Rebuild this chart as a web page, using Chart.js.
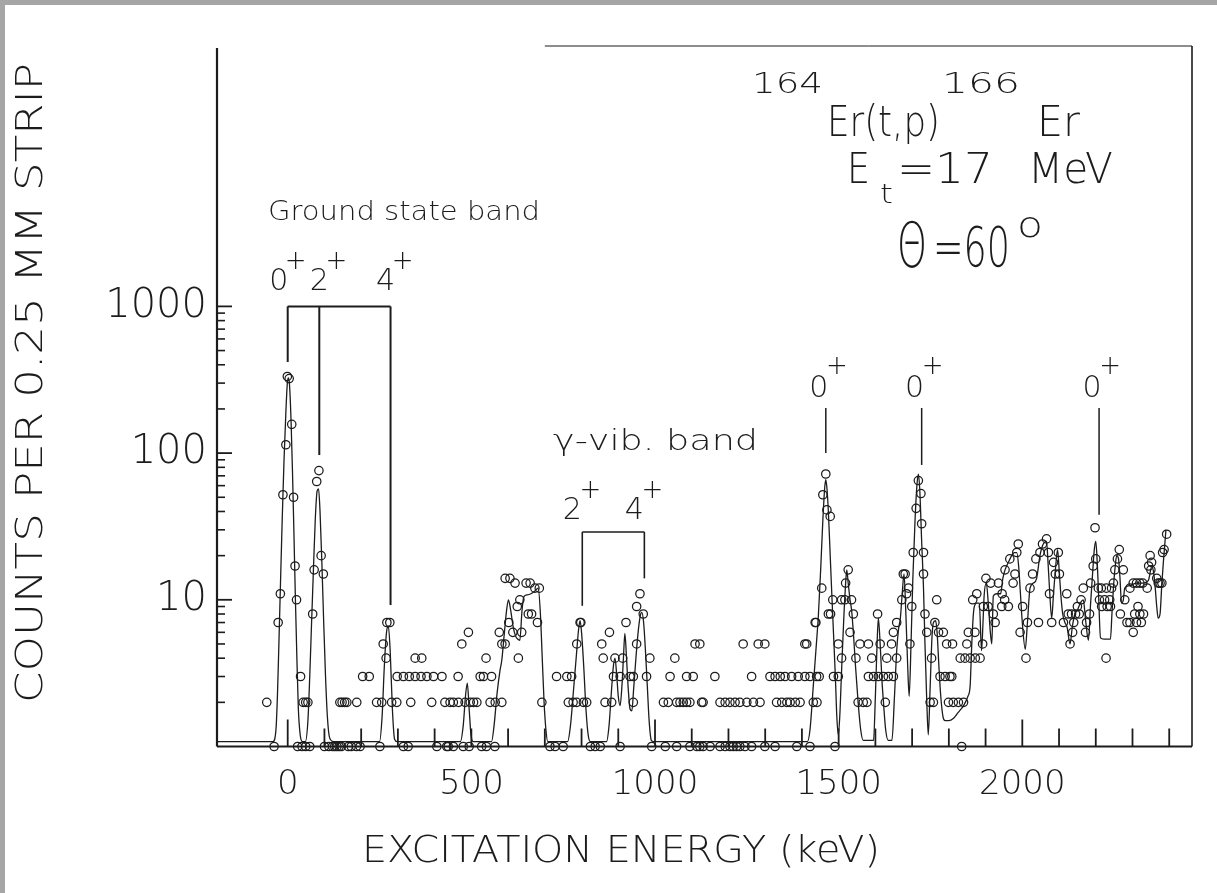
<!DOCTYPE html>
<html><head><meta charset="utf-8">
<script src="https://cdn.jsdelivr.net/npm/chart.js@4/dist/chart.umd.min.js"></script>
<style>html,body{margin:0;padding:0;background:#fff}canvas{display:block}</style>
</head><body>
<canvas id="c" width="1217" height="893"></canvas>
<script>
// ---------------- DATA (excitation energy in keV, counts per strip) ----------------
const xTickValues = [0,100,200,300,400,500,600,700,800,900,1000,1100,1200,1300,1400,1500,1600,1700,1800,1900,2000,2100,2200,2300,2400];
const yTickValues = [10,100,1000];

const groundRegion = [[-57,2],[-37,1],[-26,7],[-20,11],[-13,52],[-5,114],[-1,333],[4,322],[11,157],[16,50],[20,17],[24,10],[27,1],[35,3],[39,1],[42,2],[49,2],[49,1],[55,2],[60,1],[68,8],[72,16],[79,64],[85,76],[91,20],[97,15],[100,1],[112,1],[122,1],[128,1],[134,1],[140,1],[142,2],[146,1],[148,2],[155,2],[161,2],[165,1],[173,1],[187,1],[188,2],[197,1],[204,3],[222,3],[242,2],[251,1],[256,2],[260,5],[268,4],[270,7],[278,7],[283,2],[297,2],[298,3],[315,3],[315,1],[328,1],[331,3],[335,2],[347,3],[347,4],[363,3],[365,4],[379,3],[392,2],[397,3],[406,1],[420,3],[428,2],[433,1]];
const gammaRegion = [[437,1],[442,2],[451,1],[451,2],[464,3],[465,2],[474,5],[478,1],[483,2],[492,6],[494,1],[497,2],[506,2],[515,2],[524,3],[528,1],[533,3],[540,4],[541,1],[551,2],[555,3],[564,1],[565,2],[576,6],[583,2],[583,5],[592,5],[592,14],[602,7],[605,14],[613,6],[619,13],[625,9],[628,4],[632,10],[637,6],[649,13],[655,8],[660,13],[664,8],[673,12],[680,7],[685,12],[692,2],[714,1],[728,1],[732,3],[750,1],[760,3],[764,2],[773,3],[777,2],[787,2],[787,5],[796,7],[798,7],[805,2],[814,2],[824,1],[837,1],[851,1],[855,5],[859,4],[864,2],[876,6],[882,2],[887,3],[891,4],[905,1],[905,3],[912,4],[921,7],[932,3],[941,2],[941,3],[950,5],[950,9],[959,11],[968,8],[977,3],[986,4],[991,1],[1023,2],[1028,1],[1036,2],[1041,3],[1054,4],[1059,1],[1059,2],[1068,2],[1077,2],[1086,2],[1086,3],[1095,1],[1095,2],[1104,3],[1109,5],[1114,1]];
const midRegion = [[1122,1],[1122,5],[1127,2],[1131,1],[1131,2],[1150,1],[1163,3],[1177,1],[1177,2],[1191,1],[1191,2],[1204,1],[1204,2],[1213,1],[1218,2],[1222,1],[1231,1],[1231,2],[1240,5],[1245,1],[1250,2],[1263,1],[1263,3],[1268,2],[1281,5],[1286,2],[1299,1],[1299,5],[1313,3],[1327,1],[1327,3],[1331,2],[1341,3],[1345,2],[1354,3],[1359,2],[1368,2],[1372,3],[1382,2],[1386,1],[1390,3],[1395,2],[1408,3],[1408,5],[1413,5],[1422,1]];
const zeroPlusRegion = [[1422,3],[1431,2],[1436,7],[1438,7],[1440,3],[1441,2],[1447,3],[1454,12],[1457,52],[1465,72],[1468,41],[1472,8],[1477,37],[1478,8],[1484,10],[1486,3],[1490,1],[1499,3],[1499,5],[1508,4],[1508,10],[1517,10],[1519,13],[1526,16],[1531,6],[1535,10],[1540,8],[1547,4],[1553,2],[1558,5],[1567,2],[1577,2],[1581,3],[1581,5],[1590,4],[1595,3],[1606,8],[1608,3],[1613,5],[1622,3],[1627,2],[1631,4],[1635,3],[1644,5],[1649,3],[1649,6],[1658,4],[1658,7],[1672,10],[1676,15],[1681,15],[1685,11],[1690,12],[1694,5],[1699,9],[1703,21],[1711,42],[1717,65],[1724,53],[1726,33],[1731,21],[1731,15],[1735,8],[1740,6],[1749,2],[1753,4],[1758,2],[1762,7],[1767,10],[1772,6],[1776,3],[1785,6],[1790,3],[1794,5],[1799,2],[1803,3]];
const highRegionA = [[1808,3],[1810,5],[1812,2],[1826,2],[1831,4],[1835,1],[1840,2],[1844,4],[1849,5],[1853,6],[1858,4],[1865,10],[1871,6],[1872,4],[1876,11],[1885,4],[1892,5],[1894,9],[1901,14],[1907,9],[1914,13],[1921,8],[1926,7],[1935,13],[1944,9],[1945,11],[1952,10],[1953,16],[1962,9],[1966,19],[1975,13],[1980,15],[1985,21],[1989,24],[1994,6],[2001,9],[2010,4],[2014,7],[2021,12],[2028,15],[2037,19],[2044,7],[2048,21],[2055,24],[2066,26],[2071,21],[2074,11],[2080,7],[2085,18],[2090,15],[2098,21],[2101,15],[2112,7],[2121,11],[2125,8],[2130,5]];
const highRegionB = [[2134,8],[2137,6],[2140,7],[2145,8],[2150,9],[2155,8],[2160,10],[2166,12],[2172,6],[2175,7],[2183,8],[2186,13],[2193,17],[2198,31],[2200,19],[2207,12],[2210,10],[2215,12],[2216,9],[2224,10],[2228,4],[2229,12],[2231,9],[2238,10],[2240,9],[2243,12],[2248,13],[2252,16],[2259,19],[2264,22],[2267,8],[2275,16],[2279,10],[2285,7],[2293,12],[2293,7],[2302,13],[2302,6],[2306,8],[2311,13],[2311,7],[2315,9],[2320,13],[2320,8],[2324,7],[2328,13],[2330,8],[2340,12],[2344,17],[2348,20],[2350,16],[2352,18],[2366,14],[2370,13],[2375,13],[2380,13],[2382,21],[2386,22],[2393,28]];

const fitLow = [[-190,1.08],[-40,1.08],[-32,1.3],[-28,2.2],[-24,5],[-20,12],[-15,35],[-10,90],[-5,190],[-1,300],[2,325],[5,290],[9,170],[13,75],[17,28],[21,10],[25,4],[29,1.8],[34,1.2],[40,1.08],[48,1.08],[55,1.5],[60,3],[65,7],[70,16],[75,35],[80,55],[84,57],[88,40],[93,18],[98,7],[103,3],[108,1.6],[114,1.15],[125,1.08],[250,1.08],[257,1.6],[263,3.5],[269,6],[274,6.6],[279,4.5],[285,1.8],[291,1.12],[298,1.08],[470,1.08],[478,1.4],[484,2.2],[489,2.7],[494,1.8],[499,1.2],[505,1.08],[555,1.08],[562,1.4],[570,2.3],[578,3.3],[583,3.9],[590,6],[596,8.5],[601,10],[607,8.5],[614,6.5],[620,5.7],[626,5.4],[632,5.3],[638,8.5],[643,10.5],[652,10.8],[662,11],[673,11.5],[682,12],[688,8],[693,4],[698,2],[703,1.3],[708,1.08],[762,1.08],[770,1.4],[778,2.4],[786,4.2],[792,6.3],[796,7.2],[800,6],[806,3.5],[812,1.8],[818,1.2],[824,1.08],[868,1.08],[875,1.4],[881,2.3],[886,3.4],[891,4],[896,3],[900,2.2],[905,1.9],[910,2.6],[914,4],[918,5.9],[922,4.2],[927,2.5],[932,1.8],[937,1.75],[942,2.5],[948,4],[954,6],[960,7.8],[964,8.2],[969,7],[974,4.5],[979,2.6],[984,1.5],[990,1.1],[996,1.08]];
const fitHigh = [[1415,1.08],[1422,1.3],[1431,2.6],[1438,4.5],[1445,8],[1451,16],[1457,35],[1462,58],[1465,66],[1468,58],[1472,40],[1477,20],[1482,10],[1486,5.9],[1491,3],[1495,1.6],[1499,1.2],[1503,1.6],[1508,3.3],[1514,7.5],[1519,13],[1522,16],[1526,13],[1531,10],[1535,8.6],[1540,6],[1546,3.5],[1553,2],[1560,1.3],[1567,1.1],[1595,1.1],[1600,2.2],[1604,4.5],[1608,7.5],[1613,5],[1618,2.8],[1622,2],[1628,1.3],[1635,1.1],[1645,1.1],[1652,2.2],[1658,4.5],[1663,6.3],[1668,7.5],[1673,11],[1678,15],[1683,8],[1688,3.5],[1692,2.2],[1697,5],[1702,14],[1708,35],[1713,60],[1717,72],[1721,55],[1726,25],[1731,12],[1735,5],[1740,2],[1744,1.2],[1749,2.5],[1754,5.5],[1758,7],[1764,7.2],[1768,6],[1773,3.5],[1778,2.2],[1784,1.6],[1790,1.5],[1800,1.5],[1812,1.55],[1825,1.7],[1840,1.9],[1852,2.2],[1858,2.6],[1862,4.7],[1866,7.5],[1869,8.9],[1876,9.5],[1883,9.5],[1889,4.5],[1893,7],[1896,10.6],[1902,13],[1908,9],[1913,6],[1917,5],[1921,10.6],[1930,11],[1941,11],[1947,14],[1953,16],[1962,18],[1971,20],[1978,21],[1985,21],[1990,17],[1994,12],[2000,7],[2008,4.6],[2014,7],[2021,12],[2030,13],[2039,14],[2048,20],[2057,24],[2066,25],[2070,18],[2074,12],[2080,7.5],[2085,11],[2091,17],[2096,22],[2101,15],[2106,10],[2110,8],[2116,7],[2122,6.5],[2130,5],[2136,6.5],[2143,8],[2150,8.5],[2158,9.5],[2166,10],[2173,7],[2180,5.3],[2186,9.5],[2192,16],[2196,22],[2200,25],[2204,18],[2207,12],[2213,5.5],[2222,5.4],[2240,5.4],[2244,8],[2248,12],[2253,17],[2257,20],[2262,19],[2266,14],[2270,9.5],[2275,10],[2279,12],[2293,12.5],[2311,13],[2329,13],[2343,13.5],[2353,17],[2358,15],[2362,12],[2366,9],[2370,7.5],[2375,8],[2380,13],[2384,18],[2388,24],[2391,30]];

// level markers (energy in keV, counts give the vertical extent)
const gsLevels = [0, 86, 280];
const gsSpins = ['0','2','4'];
const gsLineEnds = [418, 97, 9.2];
const gsBracketCount = 1000;
const gvLevels = [802, 971];
const gvSpins = ['2','4'];
const gvLineEnds = [9.1, 14];
const gvBracketCount = 29;
const zeroLevels = [1465, 1726, 2209];
const zeroTopCount = 203;
const zeroLineEnds = [100, 83, 38];

// ---------------- STYLE ----------------
const INK = '#1c1c1c';
const FAM = "'DejaVu Sans', 'Liberation Sans', sans-serif";
const WT = '200';

const allPoints = [].concat(groundRegion, gammaRegion, midRegion, zeroPlusRegion, highRegionA, highRegionB).map(([e,c]) => ({x:e, y:c}));
const fitLine = [].concat(fitLow, [[1000,1.08]], fitHigh).map(([e,c]) => ({x:e, y:c}));

function txt(ctx, s, x, y, size, opt) {
  opt = opt || {};
  ctx.save();
  ctx.font = `${opt.weight || WT} ${size}px ${FAM}`;
  ctx.fillStyle = INK;
  ctx.textBaseline = opt.base || 'alphabetic';
  ctx.textAlign = opt.align || 'left';
  const w = ctx.measureText(s).width;
  const sx = opt.width ? opt.width / w : 1;
  ctx.translate(x, y);
  if (opt.rot) ctx.rotate(opt.rot);
  ctx.scale(sx, opt.sy || 1);
  ctx.fillText(s, 0, 0);
  ctx.restore();
}
function seg(ctx, x1, y1, x2, y2, lw) {
  ctx.beginPath(); ctx.lineWidth = lw || 1.5; ctx.moveTo(x1, y1); ctx.lineTo(x2, y2); ctx.stroke();
}

const decor = {
  id: 'decor',
  beforeDraw(chart) {
    const c = chart.ctx;
    c.save();
    c.fillStyle = '#ffffff'; c.fillRect(0, 0, chart.width, chart.height);
    c.fillStyle = '#a6a6a6'; c.fillRect(0, 0, chart.width, 5); c.fillRect(0, 0, 5, chart.height);
    c.restore();
  },
  afterDraw(chart) {
    const c = chart.ctx, a = chart.chartArea, xs = chart.scales.x, ys = chart.scales.y;
    c.save();
    c.strokeStyle = INK; c.lineCap = 'butt';
    // frame (top rule only partly visible in the original scan)
    seg(c, a.left, a.top + 2, a.left, a.bottom, 2.2);
    seg(c, a.left, a.bottom, a.right, a.bottom, 2.2);
    seg(c, a.right, a.top, a.right, a.bottom, 1.6);
    seg(c, xs.getPixelForValue(700), a.top, a.right, a.top, 1.0);
    // x ticks (inward)
    xTickValues.forEach(v => {
      const px = xs.getPixelForValue(v);
      seg(c, px, a.bottom, px, a.bottom - (v % 1000 === 0 ? 27 : 18), 1.8);
    });
    // y ticks (inward)
    [1, 10, 100].forEach(d => {
      for (let m = 2; m <= 9; m++) {
        const py = ys.getPixelForValue(d * m);
        seg(c, a.left, py, a.left + 8, py, 1.6);
      }
    });
    yTickValues.forEach(v => { const py = ys.getPixelForValue(v); seg(c, a.left, py, a.left + 15, py, 1.8); });

    // ground-state band bracket
    const gTop = ys.getPixelForValue(gsBracketCount);
    const gx = gsLevels.map(v => xs.getPixelForValue(v));
    seg(c, gx[0], gTop, gx[2], gTop, 2);
    gsLevels.forEach((v, i) => seg(c, gx[i], gTop, gx[i], ys.getPixelForValue(gsLineEnds[i]), 2));
    const gsDx = [-9, 0, -5];
    gsSpins.forEach((s, i) => {
      txt(c, s, gx[i] + gsDx[i], gTop - 16, 30, {align: 'center'});
      txt(c, '+', gx[i] + gsDx[i] + 17, gTop - 37, 26, {align: 'center'});
    });
    txt(c, 'Ground state band', 268, 213, 26, {base: 'middle', width: 272});

    // gamma-vibrational band bracket
    const vTop = ys.getPixelForValue(gvBracketCount);
    const vx = gvLevels.map(v => xs.getPixelForValue(v));
    seg(c, vx[0], vTop, vx[1], vTop, 1.6);
    gvLevels.forEach((v, i) => seg(c, vx[i], vTop, vx[i], ys.getPixelForValue(gvLineEnds[i]), 1.6));
    gvSpins.forEach((s, i) => {
      txt(c, s, vx[i] - 10, vTop - 13, 30, {align: 'center'});
      txt(c, '+', vx[i] + 8, vTop - 34, 26, {align: 'center'});
    });
    txt(c, '\u03B3-vib. band', 553, 443, 28, {base: 'middle', width: 205});

    // 0+ markers
    const zTop = ys.getPixelForValue(zeroTopCount);
    zeroLevels.forEach((v, i) => {
      const px = xs.getPixelForValue(v);
      seg(c, px, zTop, px, ys.getPixelForValue(zeroLineEnds[i]), 1.5);
      txt(c, '0', px - 7, 397, 30, {align: 'center'});
      txt(c, '+', px + 11, 374, 26, {align: 'center'});
    });

    // reaction title block
    txt(c, '164', 752, 93, 28, {width: 71});
    txt(c, 'Er(t,p)', 827, 136, 42, {width: 113});
    txt(c, '166', 942, 93, 28, {width: 78});
    txt(c, 'Er', 1037, 136, 42, {width: 43});
    txt(c, 'E', 847, 183, 42, {width: 23});
    txt(c, 't', 880, 203, 26, {width: 13});
    txt(c, '=17', 897, 183, 42, {width: 96});
    txt(c, 'MeV', 1028, 183, 42, {width: 85});
    txt(c, '\u0398', 897, 267, 62, {width: 30});
    txt(c, '=60', 933, 266, 55, {width: 77});
    txt(c, 'o', 1017, 237, 36, {width: 26});

    // axis titles
    txt(c, 'COUNTS PER 0.25 MM STRIP', 32, 383, 38, {rot: -Math.PI / 2, align: 'center', base: 'middle', width: 640});
    txt(c, 'EXCITATION ENERGY (keV)', 621, 852, 38, {align: 'center', base: 'middle', width: 518});
    c.restore();
  }
};

new Chart(document.getElementById('c').getContext('2d'), {
  type: 'scatter',
  data: {
    datasets: [
      {label: 'Fit', data: fitLine, showLine: true, pointRadius: 0, borderColor: INK, borderWidth: 1.3,
       cubicInterpolationMode: 'monotone', order: 2},
      {label: 'Counts', data: allPoints, showLine: false, pointRadius: 4.2, pointHoverRadius: 4.2,
       pointBorderWidth: 1.25, pointBorderColor: INK, pointBackgroundColor: 'rgba(0,0,0,0)', clip: false, order: 1}
    ]
  },
  options: {
    responsive: false, animation: false, events: [],
    layout: {padding: {left: 0, top: 46, right: 25, bottom: 0}},
    plugins: {legend: {display: false}, tooltip: {enabled: false}},
    scales: {
      x: {
        type: 'linear', min: -192.5, max: 2462,
        afterBuildTicks: s => { s.ticks = xTickValues.map(v => ({value: v})); },
        afterFit: s => { s.height = 146.5; },
        grid: {display: false, drawTicks: false}, border: {display: false},
        ticks: {autoSkip: false, maxRotation: 0, padding: 18, color: INK,
                font: {family: FAM, size: 34, weight: WT},
                callback: v => (v % 500 === 0 ? String(v) : '')}
      },
      y: {
        type: 'logarithmic', min: 1, max: 59570,
        afterBuildTicks: s => { s.ticks = yTickValues.map(v => ({value: v})); },
        afterFit: s => { s.width = 217; },
        grid: {display: false, drawTicks: false}, border: {display: false},
        ticks: {autoSkip: false, padding: 10, color: INK,
                font: {family: FAM, size: 40, weight: WT},
                callback: v => String(v)}
      }
    }
  },
  plugins: [decor]
});
</script>
</body></html>
